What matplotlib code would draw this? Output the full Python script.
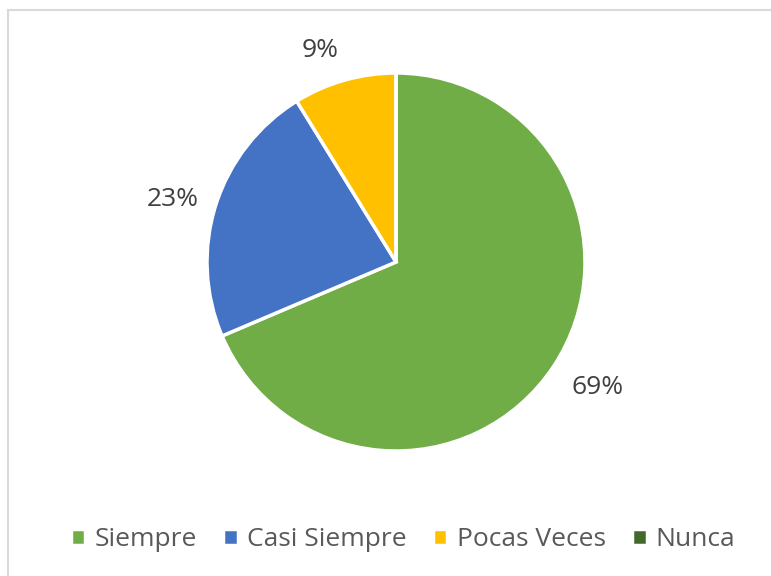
import matplotlib
matplotlib.use("Agg")
import matplotlib.pyplot as plt
from matplotlib.patches import Rectangle

categories = ["Siempre", "Casi Siempre", "Pocas Veces", "Nunca"]
values = [68.6, 22.6, 8.8, 0.0]
pct_labels = ["69%", "23%", "9%", ""]
colors = ["#70AD47", "#4472C4", "#FFC000", "#43682B"]

W, H = 771, 576
fig = plt.figure(figsize=(W / 100, H / 100), dpi=100)
plt.rcParams["font.family"] = ["Open Sans", "DejaVu Sans"]

# light grey chart border (right/bottom edges fall outside the picture)
fig.patches.append(Rectangle((8 / W, -0.1), 1.2, 1 - 10 / H + 0.1,
                             transform=fig.transFigure, fill=False,
                             edgecolor="#D9D9D9", linewidth=1.5))

ax = fig.add_axes([0, 0, 1, 1])

wedges, texts = ax.pie(values, labels=pct_labels, colors=colors,
                       startangle=90, counterclock=False,
                       center=(396, H - 262), radius=189,
                       labeldistance=1.23,
                       wedgeprops=dict(edgecolor="white", linewidth=2.5),
                       textprops=dict(fontsize=19, color="#404040"),
                       frame=True)
for t in texts:
    t.set_ha("center")
    t.set_va("center")
# small nudges to sit where the original labels are
texts[0].set_position((texts[0].get_position()[0] + 8, texts[0].get_position()[1] + 3))
texts[1].set_position((texts[1].get_position()[0] - 2, texts[1].get_position()[1] - 8))
texts[2].set_position((texts[2].get_position()[0] - 12, texts[2].get_position()[1] - 12))

ax.set_xlim(0, W)
ax.set_ylim(0, H)
ax.set_aspect("equal")
ax.axis("off")

fig.legend(wedges, categories, loc="center", bbox_to_anchor=(403 / W, 1 - 540 / H),
           ncol=4, frameon=False, fontsize=19, handlelength=0.55, handleheight=0.55,
           handletextpad=0.35, columnspacing=1.0, labelcolor="#595959")

fig.savefig("out.png", dpi=100)
